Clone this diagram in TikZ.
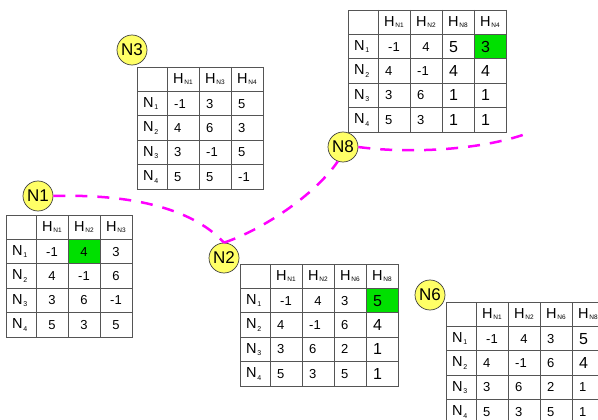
\documentclass[tikz,border=0pt]{standalone}
\usepackage{fontspec}
\setmainfont{Liberation Sans}
\definecolor{circfill}{RGB}{255,255,102}
\definecolor{cellgreen}{RGB}{0,224,0}
\definecolor{dashmag}{RGB}{255,0,255}
\definecolor{gridc}{RGB}{85,85,85}

\newcommand\hd[1]{H\kern0.8pt\raisebox{-1.5pt}{\fontsize{6.5}{6.5}\selectfont #1}}
\newcommand\rl[1]{N\kern0.8pt\raisebox{-2.5pt}{\fontsize{7}{7}\selectfont #1}}

\tikzset{
  gridline/.style={draw=gridc,line width=0.8pt},
  num/.style={inner sep=0pt,font=\fontsize{13}{13}\selectfont},
  big/.style={font=\fontsize{16}{16}\selectfont},
  hdr/.style={inner sep=0pt,font=\fontsize{14.5}{14.5}\selectfont},
  nodec/.style={circle,draw=black!75,line width=0.7pt,fill=circfill,minimum size=30pt,inner sep=0pt,font=\fontsize{17}{17}\selectfont},
  link/.style={dashmag,line width=2.5pt,dash pattern=on 12pt off 10pt}
}

% grid: x0, y0, ncols
\newcommand\tgrid[3]{%
  \draw[gridline] (#1,#2) rectangle ({#1+30+32*#3},{#2+24.4*5});
  \foreach \i in {0,...,#3} {\draw[gridline] ({#1+30+32*\i},#2) -- ({#1+30+32*\i},{#2+24.4*5});}
  \foreach \j in {1,...,4} {\draw[gridline] (#1,{#2+24.4*\j}) -- ({#1+30+32*#3},{#2+24.4*\j});}
}
% green cell: x0,y0,col,row
\newcommand\gcell[4]{\fill[cellgreen] ({#1+30+32*(#3-1)},{#2+24.4*#4}) rectangle ++(32,24.4);}
% header: name,x0,y0,col,text
\newcommand\hcell[5]{\node[hdr] (#1-#4-0) at ({#2+30+32*(#4-1)+16},{#3+12.2}) {\hd{#5}};}
% row label: name,x0,y0,row
\newcommand\rcell[4]{\node[hdr,anchor=west] (#1-0-#4) at ({#2+6},{#3+24.4*#4+12.2}) {\rl{#4}};}
% centered cell: [style] name,x0,y0,col,row,text
\newcommand\cellC[7][]{\node[num,#1] (#2-#5-#6) at ({#3+30+32*(#5-1)+16},{#4+24.4*#6+12.2}) {#7};}
% left cell
\newcommand\cellL[7][]{\node[num,anchor=west,#1] (#2-#5-#6) at ({#3+30+32*(#5-1)+7},{#4+24.4*#6+12.2}) {#7};}

\begin{document}
\begin{tikzpicture}[x=1pt,y=-1pt]
\useasboundingbox (0,0) rectangle (598,420);
\clip (0,0) rectangle (598,420);
\fill[white] (0,0) rectangle (598,420);

% ---------- Table N8 (top right)
\gcell{348}{10}{4}{1}
\tgrid{348}{10}{4}
\foreach \h [count=\c] in {N1,N2,N8,N4} {\hcell{ta}{348}{10}{\c}{\h}}
\foreach \r in {1,...,4} {\rcell{ta}{348}{10}{\r}}
\cellC{ta}{348}{10}{1}{1}{-1}
\cellC{ta}{348}{10}{2}{1}{4}
\cellL[big]{ta}{348}{10}{3}{1}{5}
\cellL[big]{ta}{348}{10}{4}{1}{3}
\cellL{ta}{348}{10}{1}{2}{4}
\cellL{ta}{348}{10}{2}{2}{-1}
\cellL[big]{ta}{348}{10}{3}{2}{4}
\cellL[big]{ta}{348}{10}{4}{2}{4}
\cellL{ta}{348}{10}{1}{3}{3}
\cellL{ta}{348}{10}{2}{3}{6}
\cellL[big]{ta}{348}{10}{3}{3}{1}
\cellL[big]{ta}{348}{10}{4}{3}{1}
\cellL{ta}{348}{10}{1}{4}{5}
\cellL{ta}{348}{10}{2}{4}{3}
\cellL[big]{ta}{348}{10}{3}{4}{1}
\cellL[big]{ta}{348}{10}{4}{4}{1}

% ---------- Table N3
\tgrid{137}{67}{3}
\foreach \h [count=\c] in {N1,N3,N4} {\hcell{tb}{137}{67}{\c}{\h}}
\foreach \r in {1,...,4} {\rcell{tb}{137}{67}{\r}}
\foreach \v [count=\c] in {-1,3,5} {\cellL{tb}{137}{67}{\c}{1}{\v}}
\foreach \v [count=\c] in {4,6,3} {\cellL{tb}{137}{67}{\c}{2}{\v}}
\foreach \v [count=\c] in {3,-1,5} {\cellL{tb}{137}{67}{\c}{3}{\v}}
\foreach \v [count=\c] in {5,5,-1} {\cellL{tb}{137}{67}{\c}{4}{\v}}

% ---------- Table N1
\gcell{6}{215}{2}{1}
\tgrid{6}{215}{3}
\foreach \h [count=\c] in {N1,N2,N3} {\hcell{tc}{6}{215}{\c}{\h}}
\foreach \r in {1,...,4} {\rcell{tc}{6}{215}{\r}}
\foreach \v [count=\c] in {-1,4,3} {\cellC{tc}{6}{215}{\c}{1}{\v}}
\foreach \v [count=\c] in {4,-1,6} {\cellC{tc}{6}{215}{\c}{2}{\v}}
\foreach \v [count=\c] in {3,6,-1} {\cellC{tc}{6}{215}{\c}{3}{\v}}
\foreach \v [count=\c] in {5,3,5} {\cellC{tc}{6}{215}{\c}{4}{\v}}

% ---------- Table N2
\gcell{240}{264}{4}{1}
\tgrid{240}{264}{4}
\foreach \h [count=\c] in {N1,N2,N6,N8} {\hcell{td}{240}{264}{\c}{\h}}
\foreach \r in {1,...,4} {\rcell{td}{240}{264}{\r}}
\cellC{td}{240}{264}{1}{1}{-1}
\cellC{td}{240}{264}{2}{1}{4}
\cellL{td}{240}{264}{3}{1}{3}
\cellL[big]{td}{240}{264}{4}{1}{5}
\foreach \v [count=\c] in {4,-1,6} {\cellL{td}{240}{264}{\c}{2}{\v}}
\cellL[big]{td}{240}{264}{4}{2}{4}
\foreach \v [count=\c] in {3,6,2} {\cellL{td}{240}{264}{\c}{3}{\v}}
\cellL[big]{td}{240}{264}{4}{3}{1}
\foreach \v [count=\c] in {5,3,5} {\cellL{td}{240}{264}{\c}{4}{\v}}
\cellL[big]{td}{240}{264}{4}{4}{1}

% ---------- Table N6
\tgrid{446}{302}{4}
\foreach \h [count=\c] in {N1,N2,N6,N8} {\hcell{te}{446}{302}{\c}{\h}}
\foreach \r in {1,...,4} {\rcell{te}{446}{302}{\r}}
\cellC{te}{446}{302}{1}{1}{-1}
\cellC{te}{446}{302}{2}{1}{4}
\cellL{te}{446}{302}{3}{1}{3}
\cellL[big]{te}{446}{302}{4}{1}{5}
\foreach \v [count=\c] in {4,-1,6} {\cellL{te}{446}{302}{\c}{2}{\v}}
\cellL[big]{te}{446}{302}{4}{2}{4}
\foreach \v [count=\c] in {3,6,2} {\cellL{te}{446}{302}{\c}{3}{\v}}
\cellL{te}{446}{302}{4}{3}{1}
\foreach \v [count=\c] in {5,3,5} {\cellL{te}{446}{302}{\c}{4}{\v}}
\cellL{te}{446}{302}{4}{4}{1}

% ---------- circle nodes
\node[nodec] (n3) at (132,50) {N3};
\node[nodec] (n8) at (343,147) {N8};
\node[nodec] (n1) at (38,196) {N1};
\node[nodec] (n2) at (224,258) {N2};
\node[nodec] (n6) at (430,295) {N6};

% ---------- dashed links
\coordinate (c3end) at (531,132);
\draw[link] (n1.east) .. controls (125,194) and (190,206) .. (n2.north);
\draw[link] (n2.north) .. controls (262,230) and (315,195) .. (n8.-110);
\draw[link] (n8.east) .. controls (410,154) and (485,150) .. (c3end);
\end{tikzpicture}
\end{document}
